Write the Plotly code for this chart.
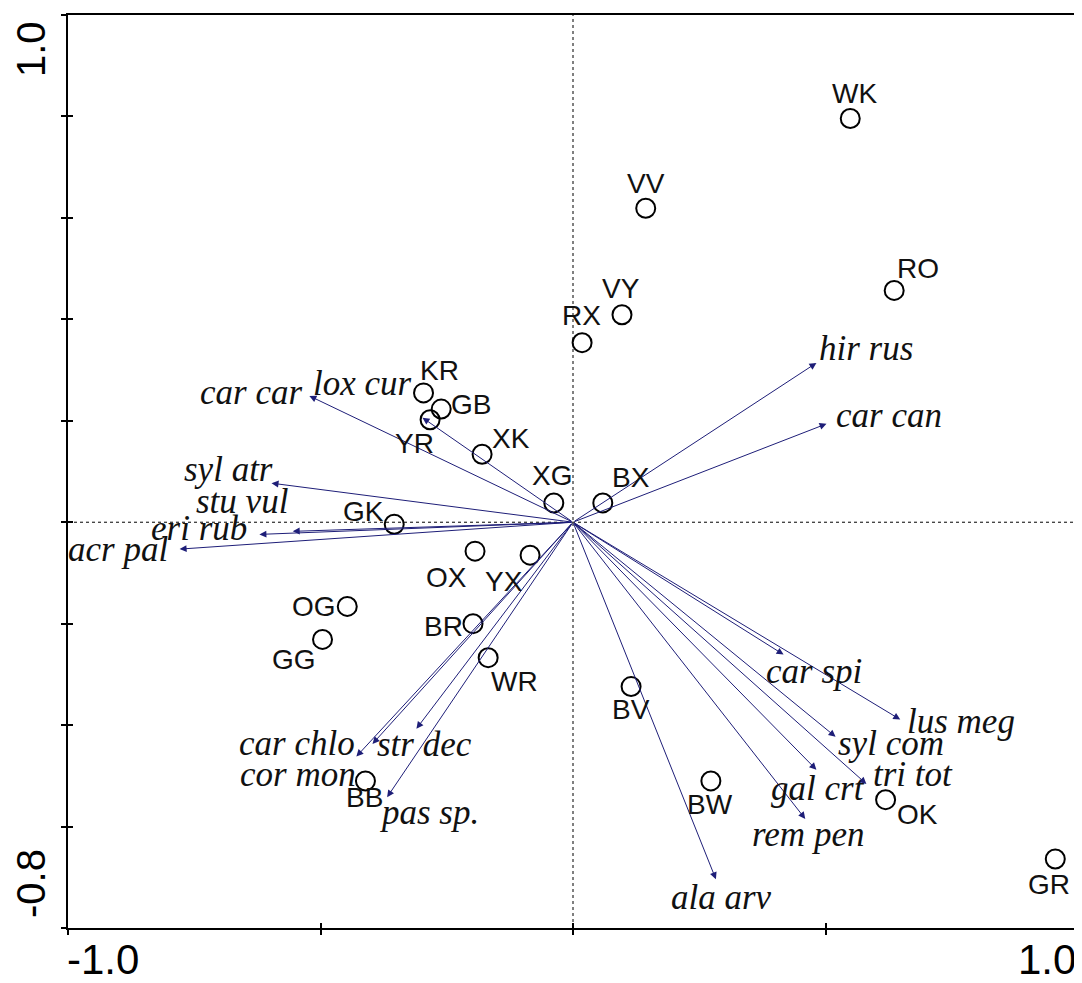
import plotly.graph_objects as go

# ---- data: sample (site) scores ----
site_names = ["WK", "VV", "RO", "VY", "RX", "KR", "GB", "YR", "XK", "XG", "BX", "GK",
              "OX", "YX", "OG", "GG", "BR", "WR", "BV", "BB", "BW", "OK", "GR"]
site_x = [0.549, 0.144, 0.636, 0.097, 0.018, -0.296, -0.261, -0.283, -0.180, -0.038, 0.059, -0.354,
          -0.194, -0.085, -0.447, -0.496, -0.198, -0.168, 0.115, -0.411, 0.273, 0.619, 0.955]
site_y = [0.796, 0.619, 0.457, 0.409, 0.354, 0.255, 0.223, 0.202, 0.134, 0.038, 0.038, -0.004,
          -0.057, -0.065, -0.166, -0.231, -0.200, -0.267, -0.324, -0.510, -0.510, -0.547, -0.664]

# ---- data: species (arrow) scores ----
sp_names = ["car car", "lox cur", "syl atr", "stu vul", "eri rub", "acr pal",
            "car chlo", "cor mon", "str dec", "pas sp.",
            "car spi", "lus meg", "syl com", "tri tot", "gal crt", "rem pen", "ala arv",
            "hir rus", "car can"]
sp_x = [-0.522, -0.298, -0.597, -0.555, -0.621, -0.779,
        -0.397, -0.429, -0.310, -0.368,
        0.417, 0.648, 0.520, 0.581, 0.482, 0.460, 0.283,
        0.482, 0.502]
sp_y = [0.249, 0.206, 0.077, -0.018, -0.024, -0.053,
        -0.437, -0.462, -0.407, -0.542,
        -0.261, -0.389, -0.423, -0.516, -0.488, -0.585, -0.704,
        0.314, 0.194]

x_ticks = [-1.0, -0.5, 0.0, 0.5, 1.0]
y_ticks = [-0.8, -0.6, -0.4, -0.2, 0.0, 0.2, 0.4, 0.6, 0.8, 1.0]
x_range = [-1.0, 1.0]
y_range = [-0.8, 1.0]

# ---- layout-only: label offsets in pixels (dx right, dy down) ----
site_off = {"WK": (4, -25), "VV": (0, -25), "RO": (24, -22), "VY": (-1, -26), "RX": (-1, -27),
            "KR": (16, -22), "GB": (30, -5), "YR": (-16, 24), "XK": (29, -16), "XG": (-2, -27),
            "BX": (28, -25), "GK": (-31, -13), "OX": (-29, 26), "YX": (-26, 26), "OG": (-33, 0),
            "GG": (-29, 20), "BR": (-30, 3), "WR": (26, 24), "BV": (0, 23), "BB": (-1, 17),
            "BW": (-1, 24), "OK": (32, 15), "GR": (-6, 25)}
sp_off = {"car car": (-58, -3), "lox cur": (-60, -34), "syl atr": (-43, -14), "stu vul": (-51, -30),
          "eri rub": (-60, -6), "acr pal": (-62, 0), "car chlo": (-76, 0), "cor mon": (-58, 18),
          "str dec": (8, 16), "pas sp.": (42, 15), "car spi": (30, 17), "lus meg": (61, 2),
          "syl com": (55, 7), "tri tot": (47, -9), "gal crt": (2, 19), "rem pen": (3, 16),
          "ala arv": (6, 18), "hir rus": (50, -14), "car can": (62, -8)}

ARROW = "#1e1e78"
SANS = "Liberation Sans, Arial, sans-serif"
SERIF = "Liberation Serif, Times New Roman, serif"

fig = go.Figure()

fig.add_trace(go.Scatter(
    x=site_x, y=site_y, mode="markers",
    marker=dict(symbol="circle-open", size=19, color="black", line=dict(width=2, color="black")),
    hoverinfo="text", text=site_names, showlegend=False))

annotations = []
# arrows from the origin to each species score
for n, x, y in zip(sp_names, sp_x, sp_y):
    annotations.append(dict(x=x, y=y, ax=0, ay=0, xref="x", yref="y", axref="x", ayref="y",
                            text="", showarrow=True, arrowhead=2, arrowsize=1.4, arrowwidth=1,
                            arrowcolor=ARROW, standoff=0, startstandoff=0))
# species labels
for n, x, y in zip(sp_names, sp_x, sp_y):
    dx, dy = sp_off[n]
    annotations.append(dict(x=x, y=y, xref="x", yref="y", text=n, showarrow=False,
                            xshift=dx, yshift=-dy, xanchor="center", yanchor="middle",
                            font=dict(family=SERIF, size=35, color="#111111", style="italic")))
# site labels
for n, x, y in zip(site_names, site_x, site_y):
    dx, dy = site_off[n]
    annotations.append(dict(x=x, y=y, xref="x", yref="y", text=n, showarrow=False,
                            xshift=dx, yshift=-dy, xanchor="center", yanchor="middle",
                            font=dict(family=SANS, size=28, color="#111111")))
# end tick labels
tick_font = dict(family=SANS, size=42, color="black")
annotations += [
    dict(xref="paper", yref="paper", x=0, y=0, xshift=-3, yshift=-31, text="-1.0",
         showarrow=False, xanchor="left", yanchor="middle", font=tick_font),
    dict(xref="paper", yref="paper", x=1, y=0, xshift=0, yshift=-31, text="1.0",
         showarrow=False, xanchor="right", yanchor="middle", font=tick_font),
    dict(xref="paper", yref="paper", x=0, y=1, xshift=-37, yshift=-34, text="1.0",
         showarrow=False, xanchor="center", yanchor="middle", textangle=-90,
         font=dict(family=SANS, size=40, color="black")),
    dict(xref="paper", yref="paper", x=0, y=0, xshift=-37, yshift=44, text="-0.8",
         showarrow=False, xanchor="center", yanchor="middle", textangle=-90,
         font=dict(family=SANS, size=40, color="black")),
]

shapes = [
    dict(type="line", xref="x", yref="paper", x0=0, x1=0, y0=0, y1=1,
         line=dict(color="black", width=1, dash="dot"), layer="below"),
    dict(type="line", xref="paper", yref="y", x0=0, x1=1, y0=0, y1=0,
         line=dict(color="black", width=1, dash="dot"), layer="below"),
]

axis_common = dict(showgrid=False, zeroline=False, showline=True, linecolor="black", linewidth=2,
                   mirror=True, ticks="outside", ticklen=5, tickwidth=2, tickcolor="black",
                   showticklabels=False)

# page body has an 8px margin, so the figure is 8px smaller than the window
fig.update_layout(
    width=1074, height=975,
    margin=dict(l=60, r=2, t=7, b=55),
    paper_bgcolor="white", plot_bgcolor="white",
    xaxis=dict(range=x_range, tickvals=x_ticks, **axis_common),
    yaxis=dict(range=y_range, tickvals=y_ticks, **axis_common),
    xaxis2=dict(range=x_range, tickvals=x_ticks, overlaying="x", anchor="y", side="bottom",
                showgrid=False, zeroline=False, showline=False, ticks="inside", ticklen=5,
                tickwidth=2, tickcolor="black", showticklabels=False),
    yaxis2=dict(range=y_range, tickvals=y_ticks, overlaying="y", anchor="x", side="left",
                showgrid=False, zeroline=False, showline=False, ticks="inside", ticklen=5,
                tickwidth=2, tickcolor="black", showticklabels=False),
    annotations=annotations, shapes=shapes,
)
fig.add_trace(go.Scatter(x=[], y=[], xaxis="x2", yaxis="y2", showlegend=False, hoverinfo="skip"))

fig.write_html("out.html")
